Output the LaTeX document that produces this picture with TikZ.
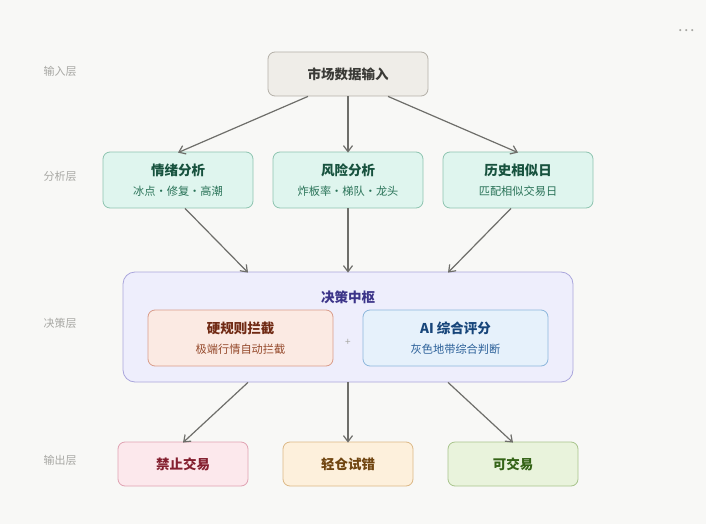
\documentclass[tikz,border=0pt]{standalone}
\usepackage{fontspec}
\setmainfont{Noto Sans CJK SC}
\usetikzlibrary{arrows.meta}
\definecolor{bg}{HTML}{F8F8F6}
\definecolor{arr}{HTML}{6E6E6A}
\definecolor{lay}{HTML}{A8A8A4}
\definecolor{inF}{HTML}{EFEDE8}\definecolor{inD}{HTML}{B4B0A8}\definecolor{inT}{HTML}{3A3A36}
\definecolor{anF}{HTML}{DFF5EE}\definecolor{anD}{HTML}{8EC4B0}\definecolor{anT}{HTML}{17523E}\definecolor{anS}{HTML}{2A7358}
\definecolor{deF}{HTML}{EEEEFC}\definecolor{deD}{HTML}{AAA6DC}\definecolor{deT}{HTML}{3C3489}
\definecolor{hrF}{HTML}{FBEAE3}\definecolor{hrD}{HTML}{D99C8A}\definecolor{hrT}{HTML}{702A14}\definecolor{hrS}{HTML}{94482A}
\definecolor{aiF}{HTML}{E6F1FB}\definecolor{aiD}{HTML}{8CB6DC}\definecolor{aiT}{HTML}{17457A}\definecolor{aiS}{HTML}{2A5F98}
\definecolor{o1F}{HTML}{FCE8EC}\definecolor{o1D}{HTML}{E0A2B2}\definecolor{o1T}{HTML}{842030}
\definecolor{o2F}{HTML}{FDF0DC}\definecolor{o2D}{HTML}{DCB886}\definecolor{o2T}{HTML}{704510}
\definecolor{o3F}{HTML}{E9F3DC}\definecolor{o3D}{HTML}{A8C48C}\definecolor{o3T}{HTML}{356418}
\tikzset{
  box/.style={draw, rounded corners=7pt, line width=0.8pt, inner sep=0pt},
  layer/.style={text=lay, font=\fontsize{11}{13}\selectfont},
  ttl/.style={font=\bfseries\fontsize{13.5}{16}\selectfont},
  sub/.style={font=\fontsize{11.2}{13}\selectfont},
  conn/.style={draw=arr, line width=1.2pt, -{Straight Barb[length=6pt,width=9pt,line width=1.2pt]}},
}
\begin{document}
\begin{tikzpicture}[x=1pt,y=-1pt]
\fill[bg] (0,0) rectangle (706,524);
\useasboundingbox (0,0) rectangle (706,524);
% layer labels
\node[layer] (l1) at (60,71) {输入层};
\node[layer] (l2) at (60,176) {分析层};
\node[layer] (l3) at (60,323) {决策层};
\node[layer] (l4) at (60,460) {输出层};
\node[text=lay, font=\fontsize{16}{16}\selectfont] (dots) at (686,31) {…};
% input
\node[box, fill=inF, draw=inD, minimum width=160pt, minimum height=44pt, text=inT, ttl] (in) at (348,74) {市场数据输入};
% analysis
\foreach \n/\x/\t/\s in {a1/178/情绪分析/冰点·修复·高潮, a2/348/风险分析/炸板率·梯队·龙头, a3/518/历史相似日/匹配相似交易日}{
  \node[box, fill=anF, draw=anD, minimum width=150pt, minimum height=56pt] (\n) at (\x,180) {};
  \node[ttl, text=anT] (\n t) at (\x,170) {\t};
  \node[sub, text=anS] (\n s) at (\x,191) {\s};
}
% decision
\node[box, rounded corners=12pt, fill=deF, draw=deD, minimum width=450pt, minimum height=110pt] (dec) at (348,327) {};
\node[ttl, text=deT] (dect) at (348,297) {决策中枢};
\node[box, fill=hrF, draw=hrD, minimum width=185pt, minimum height=56pt] (hr) at (240.5,338) {};
\node[ttl, text=hrT] (hrt) at (240.5,328) {硬规则拦截};
\node[sub, text=hrS] (hrs) at (240.5,349) {极端行情自动拦截};
\node[text=lay, font=\fontsize{10}{10}\selectfont] (plus) at (348,342) {+};
\node[box, fill=aiF, draw=aiD, minimum width=185pt, minimum height=56pt] (ai) at (455.5,338) {};
\node[ttl, text=aiT] (ait) at (455.5,328) {AI 综合评分};
\node[sub, text=aiS] (ais) at (455.5,349) {灰色地带综合判断};
% outputs
\node[box, fill=o1F, draw=o1D, minimum width=130pt, minimum height=44pt, ttl, text=o1T] (o1) at (183,464) {禁止交易};
\node[box, fill=o2F, draw=o2D, minimum width=130pt, minimum height=44pt, ttl, text=o2T] (o2) at (348,464) {轻仓试错};
\node[box, fill=o3F, draw=o3D, minimum width=130pt, minimum height=44pt, ttl, text=o3T] (o3) at (513,464) {可交易};
% connectors
\draw[conn] ([xshift=-40pt]in.south) -- ([yshift=-1pt]a1.north);
\draw[conn] (in.south) -- ([yshift=-1pt]a2.north);
\draw[conn] ([xshift=40pt]in.south) -- ([yshift=-1pt]a3.north);
\draw[conn] ([xshift=7pt]a1.south) -- ([xshift=-100pt,yshift=-1pt]dec.north);
\draw[conn] (a2.south) -- ([yshift=-1pt]dec.north);
\draw[conn] ([xshift=-7pt]a3.south) -- ([xshift=100pt,yshift=-1pt]dec.north);
\draw[conn] ([xshift=-100pt]dec.south) -- ([yshift=-1pt]o1.north);
\draw[conn] (dec.south) -- ([yshift=-1pt]o2.north);
\draw[conn] ([xshift=100pt]dec.south) -- ([yshift=-1pt]o3.north);
\end{tikzpicture}
\end{document}
